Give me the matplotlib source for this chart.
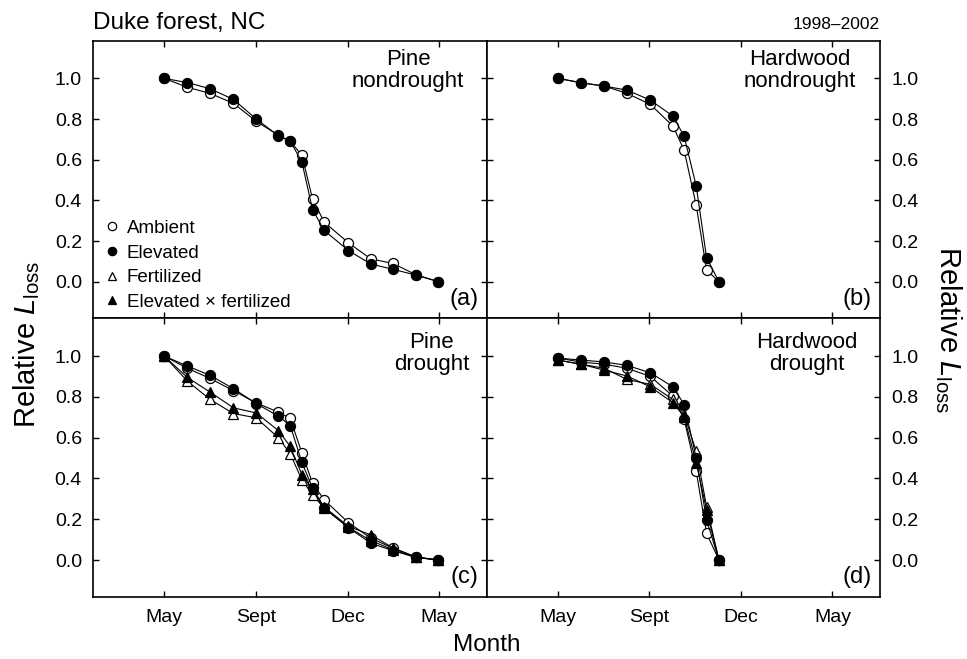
import matplotlib
matplotlib.use("Agg")
import matplotlib.pyplot as plt

plt.rcParams['font.family'] = ['Liberation Sans', 'DejaVu Sans']
plt.rcParams['mathtext.fontset'] = 'custom'
plt.rcParams['mathtext.rm'] = 'Liberation Sans'
plt.rcParams['mathtext.it'] = 'Liberation Sans:italic'

# x positions (tick index units: May, Sept, Dec, May)
pine_x = [0, 0.254, 0.502, 0.756, 1.004, 1.247, 1.375, 1.502, 1.618, 1.745, 2.01, 2.254, 2.494, 2.742, 2.99]
hard_x = [0, 0.258, 0.505, 0.756, 1.01, 1.258, 1.38, 1.512, 1.625, 1.76]
month_labels = ["May", "Sept", "Dec", "May"]

# (a) pine nondrought
a_amb = [1.0, 0.956, 0.926, 0.877, 0.789, 0.72, 0.69, 0.622, 0.408, 0.293, 0.191, 0.112, 0.090, 0.035, 0.0]
a_elev = [1.0, 0.979, 0.949, 0.896, 0.80, 0.717, 0.691, 0.589, 0.355, 0.252, 0.153, 0.087, 0.061, 0.033, 0.0]
# (b) hardwood nondrought
b_amb = [1.0, 0.978, 0.962, 0.926, 0.872, 0.765, 0.646, 0.375, 0.058, 0.0]
b_elev = [1.0, 0.978, 0.962, 0.942, 0.893, 0.814, 0.715, 0.470, 0.118, 0.0]
# (c) pine drought
c_amb = [1.0, 0.94, 0.89, 0.83, 0.77, 0.725, 0.694, 0.525, 0.377, 0.295, 0.183, 0.107, 0.058, 0.015, 0.0]
c_elev = [1.0, 0.951, 0.905, 0.84, 0.767, 0.705, 0.659, 0.479, 0.353, 0.254, 0.159, 0.082, 0.046, 0.013, 0.0]
c_fert = [1.0, 0.877, 0.787, 0.718, 0.697, 0.599, 0.521, 0.393, 0.32, 0.254, 0.16, 0.095, 0.05, 0.013, 0.0]
c_elfe = [1.0, 0.895, 0.823, 0.746, 0.721, 0.634, 0.557, 0.418, 0.348, 0.26, 0.165, 0.123, 0.06, 0.015, 0.0]
# (d) hardwood drought
d_amb = [0.99, 0.97, 0.96, 0.94, 0.90, 0.803, 0.689, 0.434, 0.131, 0.0]
d_elev = [0.99, 0.98, 0.971, 0.954, 0.918, 0.849, 0.762, 0.50, 0.197, 0.0]
d_fert = [0.98, 0.96, 0.94, 0.885, 0.861, 0.787, 0.713, 0.533, 0.262, 0.0]
d_elfe = [0.98, 0.959, 0.931, 0.902, 0.849, 0.771, 0.702, 0.476, 0.246, 0.0]

styles = {
    "Ambient": dict(marker="o", mfc="white"),
    "Elevated": dict(marker="o", mfc="black"),
    "Fertilized": dict(marker="^", mfc="white"),
    "Elevated \u00d7 fertilized": dict(marker="^", mfc="black"),
}

fig = plt.figure(figsize=(9.67, 6.59), dpi=100)
L, M, R = 0.0962, 0.5036, 0.910
B, H, T = 0.0945, 0.517, 0.9382
ax_a = fig.add_axes([L, H, M - L, T - H])
ax_b = fig.add_axes([M, H, R - M, T - H])
ax_c = fig.add_axes([L, B, M - L, H - B])
ax_d = fig.add_axes([M, B, R - M, H - B])

panels = [
    (ax_a, pine_x, [("Ambient", a_amb), ("Elevated", a_elev)], "Pine\nnondrought", 0.80, 0.97, "(a)"),
    (ax_b, hard_x, [("Ambient", b_amb), ("Elevated", b_elev)], "Hardwood\nnondrought", 0.795, 0.97, "(b)"),
    (ax_c, pine_x, [("Ambient", c_amb), ("Fertilized", c_fert), ("Elevated \u00d7 fertilized", c_elfe),
                    ("Elevated", c_elev)], "Pine\ndrought", 0.86, 0.95, "(c)"),
    (ax_d, hard_x, [("Ambient", d_amb), ("Fertilized", d_fert), ("Elevated \u00d7 fertilized", d_elfe),
                    ("Elevated", d_elev)], "Hardwood\ndrought", 0.813, 0.95, "(d)"),
]

for ax, x, series, name, tx, ty, tag in panels:
    for label, y in series:
        ax.plot(x, y, color="black", lw=0.8, ms=7.2, mec="black", mew=0.9,
                label=label, **styles[label])
    ax.set_xlim(-0.775, 3.52)
    ax.set_ylim(-0.18, 1.185)
    ax.set_xticks(range(4))
    ax.set_yticks([0, 0.2, 0.4, 0.6, 0.8, 1.0])
    ax.tick_params(direction="in", length=4, width=1, top=True, right=True,
                   labelsize=14, colors="black")
    ax.tick_params(axis="y", pad=8)
    ax.tick_params(axis="x", pad=9)
    for s in ax.spines.values():
        s.set_linewidth(1.2)
    ax.text(tx, ty, name, transform=ax.transAxes, ha="center", va="top",
            fontsize=16, linespacing=1.05)
    ax.text(0.978, 0.03, tag, transform=ax.transAxes, ha="right", va="bottom", fontsize=17)

for ax in (ax_a, ax_c):
    ax.yaxis.set_major_formatter(matplotlib.ticker.FormatStrFormatter("%.1f"))
for ax in (ax_b, ax_d):
    ax.tick_params(axis="y", labelleft=False, labelright=True)
    ax.yaxis.set_major_formatter(matplotlib.ticker.FormatStrFormatter("%.1f"))
for ax in (ax_a, ax_b):
    ax.tick_params(axis="x", labelbottom=False)
for ax in (ax_c, ax_d):
    ax.set_xticklabels(month_labels)

# legend in panel (a), markers only
handles = []
for label in styles:
    h, = ax_a.plot([], [], ls="none", ms=6, mec="black", mew=0.9, **styles[label])
    handles.append(h)
ax_a.legend(handles, list(styles), loc="lower left", bbox_to_anchor=(0.012, 0.0),
            frameon=False, fontsize=13.5, handlelength=0.7, handletextpad=0.45,
            labelspacing=0.4, borderaxespad=0.2, borderpad=0.2)

fig.text(L, 0.956, "Duke forest, NC", fontsize=17.5, ha="left", va="baseline")
fig.text(R, 0.956, "1998\u20132002", fontsize=12.5, ha="right", va="baseline")
fig.text(0.5036, 0.012, "Month", fontsize=17.5, ha="center", va="baseline")
ylab = "Relative $\\mathit{L}_{\\mathrm{loss}}$"
fig.text(0.027, 0.478, ylab, fontsize=21, rotation=90, ha="center", va="center")
fig.text(0.981, 0.50, ylab, fontsize=21, rotation=270, ha="center", va="center")

fig.savefig("out.png", dpi=100)
